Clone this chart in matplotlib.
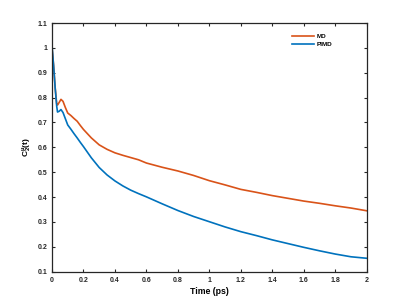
import matplotlib
matplotlib.use('Agg')
import matplotlib.pyplot as plt

# Time axis (ps) and orientational correlation values
time_ps = [0, 0.01, 0.02, 0.03, 0.035, 0.045, 0.057, 0.07, 0.085, 0.1,
           0.12, 0.14, 0.16, 0.18, 0.2, 0.25, 0.3, 0.35, 0.4, 0.45, 0.5,
           0.55, 0.6, 0.7, 0.8, 0.9, 1.0, 1.1, 1.2, 1.3, 1.4, 1.5, 1.6,
           1.7, 1.8, 1.9, 2.0]
md = [1.0, 0.93, 0.84, 0.775, 0.77, 0.78, 0.793, 0.785, 0.76, 0.738,
      0.728, 0.716, 0.705, 0.688, 0.672, 0.638, 0.61, 0.592, 0.578, 0.568,
      0.559, 0.55, 0.537, 0.52, 0.505, 0.487, 0.466, 0.449, 0.431, 0.419,
      0.406, 0.395, 0.384, 0.375, 0.365, 0.356, 0.345]
pimd = [1.01, 0.93, 0.84, 0.765, 0.742, 0.745, 0.752, 0.74, 0.715, 0.69,
        0.673, 0.655, 0.638, 0.62, 0.603, 0.558, 0.519, 0.489, 0.465, 0.445,
        0.428, 0.414, 0.401, 0.373, 0.346, 0.322, 0.301, 0.28, 0.261, 0.245,
        0.228, 0.213, 0.198, 0.184, 0.171, 0.16, 0.154]

x_ticks = [0, 0.2, 0.4, 0.6, 0.8, 1, 1.2, 1.4, 1.6, 1.8, 2]
x_labels = ['0', '0.2', '0.4', '0.6', '0.8', '1', '1.2', '1.4', '1.6', '1.8', '2']
y_ticks = [0.1, 0.2, 0.3, 0.4, 0.5, 0.6, 0.7, 0.8, 0.9, 1, 1.1]
y_labels = ['0.1', '0.2', '0.3', '0.4', '0.5', '0.6', '0.7', '0.8', '0.9', '1', '1.1']

plt.rcParams['font.family'] = ['Liberation Sans', 'DejaVu Sans']
plt.rcParams['mathtext.fontset'] = 'custom'
plt.rcParams['mathtext.rm'] = 'Liberation Sans:bold'
plt.rcParams['mathtext.it'] = 'Liberation Sans:bold'

fig = plt.figure(figsize=(4.05, 3.06), dpi=100)
ax = fig.add_axes([0.1284, 0.1121, 0.777, 0.8127])

ax.plot(time_ps, md, color='#D95319', lw=1.2, label='MD')
ax.plot(time_ps, pimd, color='#0072BD', lw=1.2, label='PIMD')

ax.set_xlim(0, 2)
ax.set_ylim(0.1, 1.1)
ax.set_xticks(x_ticks)
ax.set_xticklabels(x_labels)
ax.set_yticks(y_ticks)
ax.set_yticklabels(y_labels)
ax.tick_params(direction='in', length=2.2, width=0.8, colors='#262626',
               labelsize=5.0, top=True, right=True, pad=3.5)
for lab in ax.get_xticklabels() + ax.get_yticklabels():
    lab.set_fontweight('bold')
for sp in ax.spines.values():
    sp.set_color('#262626')
    sp.set_linewidth(0.9)

ax.set_xlabel('Time (ps)', fontsize=6.3, fontweight='bold', labelpad=2.5)
ax.set_ylabel(r'C$_2^{\mu}$(t)', fontsize=6.0, fontweight='bold', labelpad=2.5)

# legend placed by hand near the top right corner
leg = ax.legend(loc='upper left', bbox_to_anchor=(0.762, 0.957), frameon=False,
                fontsize=4.6, handlelength=3.4, handletextpad=0.42,
                labelspacing=0.4, borderaxespad=0, borderpad=0)
for t in leg.get_texts():
    t.set_fontweight('bold')

fig.savefig('out.png', dpi=100)
